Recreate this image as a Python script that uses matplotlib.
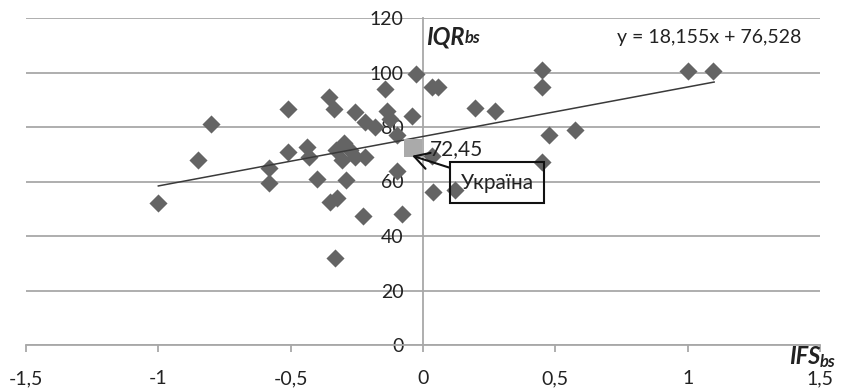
import matplotlib
matplotlib.use('Agg')
import matplotlib.pyplot as plt
from matplotlib.ticker import FuncFormatter, FixedLocator

# ---- data ----
ifs = [-1.00, -0.85, -0.80, -0.58, -0.58, -0.51, -0.51, -0.44, -0.43, -0.40,
       -0.355, -0.335, -0.35, -0.325, -0.333, -0.33, -0.30, -0.275, -0.305, -0.257,
       -0.219, -0.29, -0.227, -0.257, -0.219, -0.18, -0.136, -0.125, -0.144, -0.10,
       -0.10, -0.04, -0.025, -0.08, 0.034, 0.057, 0.034, 0.038, 0.12, 0.196,
       0.272, 0.45, 0.45, 0.476, 0.574, 0.45, 1.00, 1.096]
iqr = [52, 68, 81, 65, 59.5, 86.5, 71, 72.5, 69, 61,
       91, 86.5, 52.5, 54, 32, 71.5, 74, 71.5, 68, 69,
       69, 60.5, 47.5, 85.5, 82, 80, 86, 83, 94, 77,
       64, 84, 99.5, 48, 94.5, 94.5, 69.5, 56, 57, 87,
       86, 101, 94.5, 77, 79, 67, 100.5, 100.5]
ukr_ifs = -0.036
ukr_iqr = 72.45
ukr_name = 'Україна'
slope, intercept = 18.155, 76.528
trend_x = [-1.0, 1.1]
x_ticks = [-1.5, -1, -0.5, 0, 0.5, 1, 1.5]
y_ticks = [0, 20, 40, 60, 80, 100, 120]

plt.rcParams['font.family'] = ['Lato', 'DejaVu Sans']

W, H = 841, 391
fig = plt.figure(figsize=(W / 100, H / 100), dpi=100)
ax = fig.add_axes([26 / W, 1 - 345 / H, 794 / W, 327 / H])
ax.set_xlim(-1.5, 1.5)
ax.set_ylim(0, 120)

grid_c = '#a8a8a8'
for s in ['top', 'right']:
    ax.spines[s].set_visible(False)
ax.spines['left'].set_position(('data', 0))
ax.spines['left'].set_color(grid_c)
ax.spines['left'].set_linewidth(1.3)
ax.spines['bottom'].set_color(grid_c)
ax.spines['bottom'].set_linewidth(1.3)

ax.xaxis.set_major_locator(FixedLocator(x_ticks))
ax.yaxis.set_major_locator(FixedLocator(y_ticks))
fmt = FuncFormatter(lambda v, p: ('{:g}'.format(v)).replace('.', ','))
ax.xaxis.set_major_formatter(fmt)
ax.yaxis.set_major_formatter(fmt)
ax.tick_params(axis='x', direction='out', length=5, width=1.3, color=grid_c,
               pad=13, labelsize=14, labelcolor='#222222')
ax.tick_params(axis='y', length=0, pad=14, labelsize=14, labelcolor='#222222')
ax.yaxis.grid(True, color=grid_c, linewidth=1.3)
ax.set_axisbelow(True)

# scatter
ax.scatter(ifs, iqr, marker='D', s=85, color='#646464', linewidths=0, zorder=3)
# trend line
ax.plot(trend_x, [slope * x + intercept for x in trend_x], color='#3a3a3a',
        linewidth=1.1, zorder=4)
# Ukraine
ax.scatter([ukr_ifs], [ukr_iqr], marker='s', s=150, color='#aaaaaa',
           linewidths=0, zorder=5)
ax.annotate('{:g}'.format(ukr_iqr).replace('.', ','), xy=(ukr_ifs, ukr_iqr),
            xytext=(12, -1), textcoords='offset points', fontsize=15,
            va='center', ha='left', color='#222222', zorder=6)
ax.annotate(ukr_name, xy=(ukr_ifs - 0.005, ukr_iqr - 3), xytext=(0.28, 59.5),
            textcoords='data', fontsize=15, ha='center', va='center',
            color='#222222',
            bbox=dict(boxstyle='square,pad=0.5', fc='none', ec='#111111', lw=1.5),
            arrowprops=dict(arrowstyle='->,head_length=0.7,head_width=0.4',
                            color='#111111', lw=1.5, shrinkA=0, shrinkB=0),
            zorder=6)

# equation
ax.text(0.733, 113, 'y = {:,.3f}x + {:,.3f}'.format(slope, intercept).replace('.', ','),
        fontsize=14, va='center', ha='left', color='#222222')

# axis titles
t1 = ax.text(0.012, 113, 'IQR', fontsize=17, weight='bold', style='italic',
             va='center', ha='left', color='#222222')
ax.annotate('bs', xy=(1, 0.12), xycoords=t1, fontsize=12, weight='bold',
            style='italic', va='bottom', ha='left', color='#222222')
t2 = ax.text(1.385, -4.3, 'IFS', fontsize=17, weight='bold', style='italic',
             va='center', ha='left', color='#222222', clip_on=False)
ax.annotate('bs', xy=(0.97, -0.08), xycoords=t2, fontsize=12, weight='bold',
            style='italic', va='bottom', ha='left', color='#222222',
            annotation_clip=False)

fig.savefig('out.png', dpi=100)
